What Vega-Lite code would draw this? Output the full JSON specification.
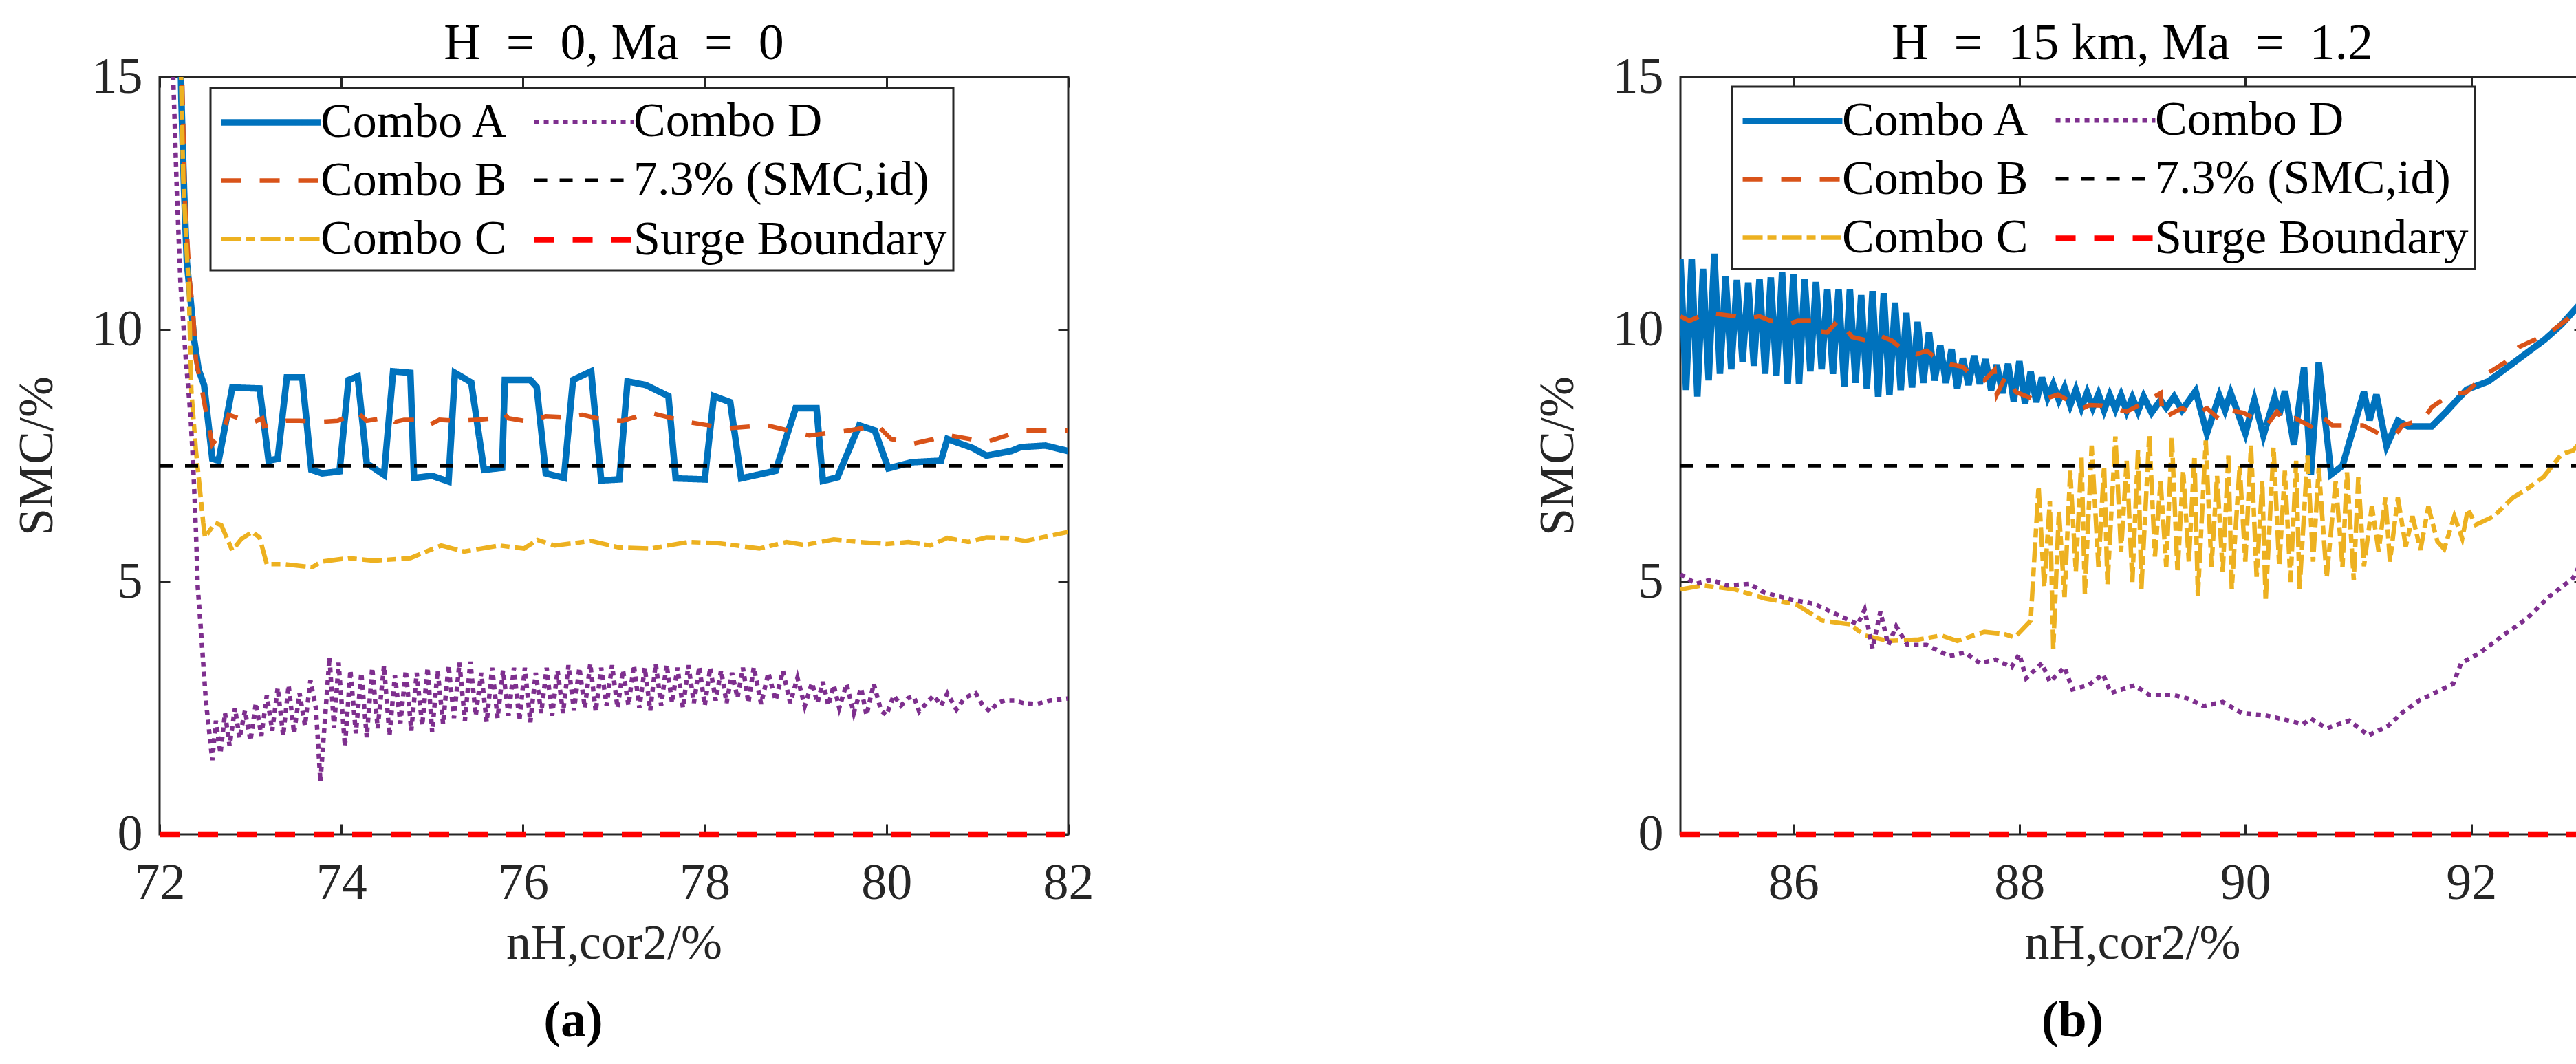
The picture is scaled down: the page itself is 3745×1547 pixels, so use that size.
{
  "$schema": "https://vega.github.io/schema/vega-lite/v6.json",
  "background": "white",
  "padding": {"left": 15, "top": 25, "right": 0, "bottom": 0},
  "datasets": {
    "a": [
      {"s":"Combo A","x":72.23,"y":15.6},{"s":"Combo A","x":72.24,"y":14.55},{"s":"Combo A","x":72.27,"y":12.73},{"s":"Combo A","x":72.30,"y":11.33},{"s":"Combo A","x":72.35,"y":10.42},{"s":"Combo A","x":72.38,"y":9.8},{"s":"Combo A","x":72.43,"y":9.2},{"s":"Combo A","x":72.49,"y":8.9},{"s":"Combo A","x":72.58,"y":7.44},{"s":"Combo A","x":72.65,"y":7.4},{"s":"Combo A","x":72.80,"y":8.85},{"s":"Combo A","x":73.10,"y":8.83},{"s":"Combo A","x":73.20,"y":7.4},{"s":"Combo A","x":73.30,"y":7.44},{"s":"Combo A","x":73.40,"y":9.05},{"s":"Combo A","x":73.57,"y":9.05},{"s":"Combo A","x":73.67,"y":7.22},{"s":"Combo A","x":73.79,"y":7.15},{"s":"Combo A","x":73.98,"y":7.19},{"s":"Combo A","x":74.08,"y":9.0},{"s":"Combo A","x":74.18,"y":9.07},{"s":"Combo A","x":74.28,"y":7.35},{"s":"Combo A","x":74.47,"y":7.12},{"s":"Combo A","x":74.57,"y":9.17},{"s":"Combo A","x":74.76,"y":9.14},{"s":"Combo A","x":74.80,"y":7.06},{"s":"Combo A","x":75.00,"y":7.1},{"s":"Combo A","x":75.18,"y":6.99},{"s":"Combo A","x":75.25,"y":9.14},{"s":"Combo A","x":75.43,"y":8.95},{"s":"Combo A","x":75.57,"y":7.22},{"s":"Combo A","x":75.77,"y":7.26},{"s":"Combo A","x":75.80,"y":9.0},{"s":"Combo A","x":76.08,"y":9.0},{"s":"Combo A","x":76.15,"y":8.86},{"s":"Combo A","x":76.25,"y":7.15},{"s":"Combo A","x":76.45,"y":7.06},{"s":"Combo A","x":76.55,"y":9.0},{"s":"Combo A","x":76.75,"y":9.17},{"s":"Combo A","x":76.86,"y":7.01},{"s":"Combo A","x":77.06,"y":7.03},{"s":"Combo A","x":77.15,"y":8.97},{"s":"Combo A","x":77.35,"y":8.9},{"s":"Combo A","x":77.60,"y":8.68},{"s":"Combo A","x":77.68,"y":7.05},{"s":"Combo A","x":78.00,"y":7.03},{"s":"Combo A","x":78.10,"y":8.68},{"s":"Combo A","x":78.28,"y":8.56},{"s":"Combo A","x":78.40,"y":7.05},{"s":"Combo A","x":78.78,"y":7.2},{"s":"Combo A","x":79.00,"y":8.44},{"s":"Combo A","x":79.23,"y":8.44},{"s":"Combo A","x":79.30,"y":7.0},{"s":"Combo A","x":79.46,"y":7.07},{"s":"Combo A","x":79.70,"y":8.1},{"s":"Combo A","x":79.87,"y":8.0},{"s":"Combo A","x":80.02,"y":7.25},{"s":"Combo A","x":80.28,"y":7.37},{"s":"Combo A","x":80.60,"y":7.4},{"s":"Combo A","x":80.67,"y":7.83},{"s":"Combo A","x":80.95,"y":7.65},{"s":"Combo A","x":81.10,"y":7.5},{"s":"Combo A","x":81.37,"y":7.59},{"s":"Combo A","x":81.48,"y":7.67},{"s":"Combo A","x":81.75,"y":7.7},{"s":"Combo A","x":82.00,"y":7.59},
      {"s":"Combo B","x":72.24,"y":15.6},{"s":"Combo B","x":72.28,"y":12.5},{"s":"Combo B","x":72.33,"y":11.0},{"s":"Combo B","x":72.37,"y":10.3},{"s":"Combo B","x":72.40,"y":9.4},{"s":"Combo B","x":72.47,"y":8.77},{"s":"Combo B","x":72.50,"y":8.47},{"s":"Combo B","x":72.58,"y":7.72},{"s":"Combo B","x":72.70,"y":8.0},{"s":"Combo B","x":72.76,"y":8.31},{"s":"Combo B","x":73.02,"y":8.15},{"s":"Combo B","x":73.13,"y":8.24},{"s":"Combo B","x":73.15,"y":8.08},{"s":"Combo B","x":73.39,"y":8.19},{"s":"Combo B","x":73.54,"y":8.19},{"s":"Combo B","x":73.78,"y":8.17},{"s":"Combo B","x":73.96,"y":8.19},{"s":"Combo B","x":74.18,"y":8.36},{"s":"Combo B","x":74.28,"y":8.19},{"s":"Combo B","x":74.52,"y":8.26},{"s":"Combo B","x":74.59,"y":8.17},{"s":"Combo B","x":74.69,"y":8.21},{"s":"Combo B","x":74.91,"y":8.21},{"s":"Combo B","x":74.98,"y":8.12},{"s":"Combo B","x":75.08,"y":8.21},{"s":"Combo B","x":75.30,"y":8.19},{"s":"Combo B","x":75.48,"y":8.21},{"s":"Combo B","x":75.72,"y":8.24},{"s":"Combo B","x":75.79,"y":8.33},{"s":"Combo B","x":75.84,"y":8.24},{"s":"Combo B","x":76.08,"y":8.17},{"s":"Combo B","x":76.25,"y":8.28},{"s":"Combo B","x":76.48,"y":8.26},{"s":"Combo B","x":76.65,"y":8.31},{"s":"Combo B","x":76.89,"y":8.21},{"s":"Combo B","x":77.09,"y":8.19},{"s":"Combo B","x":77.40,"y":8.35},{"s":"Combo B","x":77.80,"y":8.17},{"s":"Combo B","x":78.25,"y":8.04},{"s":"Combo B","x":78.68,"y":8.1},{"s":"Combo B","x":79.15,"y":7.9},{"s":"Combo B","x":79.60,"y":8.0},{"s":"Combo B","x":79.90,"y":8.1},{"s":"Combo B","x":80.05,"y":7.83},{"s":"Combo B","x":80.30,"y":7.74},{"s":"Combo B","x":80.70,"y":7.9},{"s":"Combo B","x":81.10,"y":7.77},{"s":"Combo B","x":81.50,"y":8.0},{"s":"Combo B","x":82.00,"y":8.0},
      {"s":"Combo C","x":72.23,"y":15.6},{"s":"Combo C","x":72.26,"y":13.0},{"s":"Combo C","x":72.30,"y":11.5},{"s":"Combo C","x":72.32,"y":10.9},{"s":"Combo C","x":72.35,"y":8.77},{"s":"Combo C","x":72.40,"y":7.6},{"s":"Combo C","x":72.44,"y":6.9},{"s":"Combo C","x":72.48,"y":6.17},{"s":"Combo C","x":72.50,"y":5.88},{"s":"Combo C","x":72.61,"y":6.17},{"s":"Combo C","x":72.68,"y":6.12},{"s":"Combo C","x":72.80,"y":5.62},{"s":"Combo C","x":72.90,"y":5.85},{"s":"Combo C","x":73.02,"y":5.99},{"s":"Combo C","x":73.10,"y":5.88},{"s":"Combo C","x":73.18,"y":5.35},{"s":"Combo C","x":73.37,"y":5.35},{"s":"Combo C","x":73.68,"y":5.29},{"s":"Combo C","x":73.78,"y":5.4},{"s":"Combo C","x":74.08,"y":5.47},{"s":"Combo C","x":74.36,"y":5.42},{"s":"Combo C","x":74.76,"y":5.47},{"s":"Combo C","x":75.03,"y":5.67},{"s":"Combo C","x":75.10,"y":5.72},{"s":"Combo C","x":75.35,"y":5.6},{"s":"Combo C","x":75.74,"y":5.72},{"s":"Combo C","x":76.01,"y":5.66},{"s":"Combo C","x":76.16,"y":5.83},{"s":"Combo C","x":76.35,"y":5.72},{"s":"Combo C","x":76.75,"y":5.81},{"s":"Combo C","x":77.06,"y":5.68},{"s":"Combo C","x":77.40,"y":5.66},{"s":"Combo C","x":77.82,"y":5.79},{"s":"Combo C","x":78.13,"y":5.77},{"s":"Combo C","x":78.60,"y":5.66},{"s":"Combo C","x":78.90,"y":5.79},{"s":"Combo C","x":79.10,"y":5.73},{"s":"Combo C","x":79.42,"y":5.84},{"s":"Combo C","x":79.70,"y":5.79},{"s":"Combo C","x":80.00,"y":5.75},{"s":"Combo C","x":80.24,"y":5.79},{"s":"Combo C","x":80.48,"y":5.72},{"s":"Combo C","x":80.67,"y":5.87},{"s":"Combo C","x":80.90,"y":5.79},{"s":"Combo C","x":81.10,"y":5.88},{"s":"Combo C","x":81.33,"y":5.87},{"s":"Combo C","x":81.53,"y":5.81},{"s":"Combo C","x":82.00,"y":5.99},
      {"s":"Combo D","x":72.13,"y":15.6},{"s":"Combo D","x":72.15,"y":15.0},{"s":"Combo D","x":72.19,"y":12.73},{"s":"Combo D","x":72.23,"y":10.9},{"s":"Combo D","x":72.29,"y":9.38},{"s":"Combo D","x":72.34,"y":8.3},{"s":"Combo D","x":72.37,"y":7.3},{"s":"Combo D","x":72.40,"y":6.0},{"s":"Combo D","x":72.42,"y":4.9},{"s":"Combo D","x":72.45,"y":4.17},{"s":"Combo D","x":72.51,"y":2.63},{"s":"Combo D","x":72.58,"y":1.47},
      {"s":"Combo D","x":72.62,"y":2.25},{"s":"Combo D","x":72.67,"y":1.6},{"s":"Combo D","x":72.72,"y":2.4},{"s":"Combo D","x":72.77,"y":1.75},{"s":"Combo D","x":72.83,"y":2.5},{"s":"Combo D","x":72.88,"y":1.9},{"s":"Combo D","x":72.94,"y":2.45},{"s":"Combo D","x":73.00,"y":1.85},{"s":"Combo D","x":73.06,"y":2.6},{"s":"Combo D","x":73.12,"y":1.95},{"s":"Combo D","x":73.18,"y":2.75},{"s":"Combo D","x":73.24,"y":2.05},{"s":"Combo D","x":73.30,"y":2.9},{"s":"Combo D","x":73.36,"y":1.95},{"s":"Combo D","x":73.42,"y":2.95},{"s":"Combo D","x":73.48,"y":2.0},{"s":"Combo D","x":73.54,"y":2.8},{"s":"Combo D","x":73.60,"y":2.15},{"s":"Combo D","x":73.66,"y":3.05},{"s":"Combo D","x":73.72,"y":2.5},{"s":"Combo D","x":73.77,"y":1.04},{"s":"Combo D","x":73.87,"y":3.51},{"s":"Combo D","x":73.92,"y":2.1},{"s":"Combo D","x":73.97,"y":3.4},{"s":"Combo D","x":74.04,"y":1.74},{"s":"Combo D","x":74.10,"y":3.25},{"s":"Combo D","x":74.16,"y":2.0},{"s":"Combo D","x":74.22,"y":3.2},{"s":"Combo D","x":74.28,"y":1.92},{"s":"Combo D","x":74.34,"y":3.3},{"s":"Combo D","x":74.40,"y":2.1},{"s":"Combo D","x":74.47,"y":3.34},{"s":"Combo D","x":74.53,"y":1.95},{"s":"Combo D","x":74.59,"y":3.15},{"s":"Combo D","x":74.65,"y":2.2},{"s":"Combo D","x":74.71,"y":3.25},{"s":"Combo D","x":74.77,"y":2.05},{"s":"Combo D","x":74.83,"y":3.2},{"s":"Combo D","x":74.89,"y":2.15},{"s":"Combo D","x":74.95,"y":3.3},{"s":"Combo D","x":75.00,"y":2.02},{"s":"Combo D","x":75.06,"y":3.25},{"s":"Combo D","x":75.12,"y":2.18},{"s":"Combo D","x":75.18,"y":3.35},{"s":"Combo D","x":75.24,"y":2.3},{"s":"Combo D","x":75.30,"y":3.4},{"s":"Combo D","x":75.36,"y":2.25},{"s":"Combo D","x":75.42,"y":3.42},{"s":"Combo D","x":75.48,"y":2.35},{"s":"Combo D","x":75.54,"y":3.2},{"s":"Combo D","x":75.60,"y":2.22},{"s":"Combo D","x":75.66,"y":3.3},{"s":"Combo D","x":75.72,"y":2.3},{"s":"Combo D","x":75.78,"y":3.25},{"s":"Combo D","x":75.84,"y":2.35},{"s":"Combo D","x":75.90,"y":3.3},{"s":"Combo D","x":75.96,"y":2.25},{"s":"Combo D","x":76.02,"y":3.3},{"s":"Combo D","x":76.08,"y":2.22},{"s":"Combo D","x":76.14,"y":3.2},{"s":"Combo D","x":76.20,"y":2.4},{"s":"Combo D","x":76.26,"y":3.3},{"s":"Combo D","x":76.32,"y":2.35},{"s":"Combo D","x":76.38,"y":3.25},{"s":"Combo D","x":76.44,"y":2.4},{"s":"Combo D","x":76.50,"y":3.35},{"s":"Combo D","x":76.56,"y":2.45},{"s":"Combo D","x":76.62,"y":3.3},{"s":"Combo D","x":76.68,"y":2.5},{"s":"Combo D","x":76.74,"y":3.38},{"s":"Combo D","x":76.80,"y":2.43},{"s":"Combo D","x":76.86,"y":3.3},{"s":"Combo D","x":76.92,"y":2.55},{"s":"Combo D","x":76.98,"y":3.35},{"s":"Combo D","x":77.04,"y":2.5},{"s":"Combo D","x":77.10,"y":3.25},{"s":"Combo D","x":77.16,"y":2.55},{"s":"Combo D","x":77.22,"y":3.35},{"s":"Combo D","x":77.28,"y":2.5},{"s":"Combo D","x":77.34,"y":3.3},{"s":"Combo D","x":77.40,"y":2.45},{"s":"Combo D","x":77.46,"y":3.38},{"s":"Combo D","x":77.52,"y":2.55},{"s":"Combo D","x":77.58,"y":3.36},{"s":"Combo D","x":77.64,"y":2.6},{"s":"Combo D","x":77.70,"y":3.3},{"s":"Combo D","x":77.76,"y":2.5},{"s":"Combo D","x":77.82,"y":3.35},{"s":"Combo D","x":77.88,"y":2.6},{"s":"Combo D","x":77.94,"y":3.32},{"s":"Combo D","x":78.00,"y":2.55},{"s":"Combo D","x":78.06,"y":3.3},{"s":"Combo D","x":78.12,"y":2.65},{"s":"Combo D","x":78.18,"y":3.25},{"s":"Combo D","x":78.24,"y":2.6},{"s":"Combo D","x":78.30,"y":3.2},{"s":"Combo D","x":78.36,"y":2.7},{"s":"Combo D","x":78.42,"y":3.3},{"s":"Combo D","x":78.48,"y":2.6},{"s":"Combo D","x":78.54,"y":3.31},{"s":"Combo D","x":78.62,"y":2.58},{"s":"Combo D","x":78.70,"y":3.2},{"s":"Combo D","x":78.78,"y":2.65},{"s":"Combo D","x":78.86,"y":3.24},{"s":"Combo D","x":78.94,"y":2.6},{"s":"Combo D","x":79.02,"y":3.1},{"s":"Combo D","x":79.10,"y":2.54},{"s":"Combo D","x":79.18,"y":3.0},{"s":"Combo D","x":79.24,"y":2.6},{"s":"Combo D","x":79.30,"y":3.02},{"s":"Combo D","x":79.36,"y":2.55},{"s":"Combo D","x":79.42,"y":2.95},{"s":"Combo D","x":79.48,"y":2.5},{"s":"Combo D","x":79.56,"y":2.98},{"s":"Combo D","x":79.64,"y":2.4},{"s":"Combo D","x":79.72,"y":2.9},{"s":"Combo D","x":79.78,"y":2.36},{"s":"Combo D","x":79.86,"y":2.98},{"s":"Combo D","x":79.94,"y":2.45},{"s":"Combo D","x":80.00,"y":2.36},{"s":"Combo D","x":80.08,"y":2.75},{"s":"Combo D","x":80.16,"y":2.55},{"s":"Combo D","x":80.24,"y":2.7},{"s":"Combo D","x":80.30,"y":2.73},{"s":"Combo D","x":80.36,"y":2.43},{"s":"Combo D","x":80.44,"y":2.6},{"s":"Combo D","x":80.52,"y":2.75},{"s":"Combo D","x":80.60,"y":2.55},{"s":"Combo D","x":80.67,"y":2.79},{"s":"Combo D","x":80.77,"y":2.47},{"s":"Combo D","x":80.86,"y":2.7},{"s":"Combo D","x":80.98,"y":2.8},{"s":"Combo D","x":81.06,"y":2.55},{"s":"Combo D","x":81.14,"y":2.43},{"s":"Combo D","x":81.22,"y":2.6},{"s":"Combo D","x":81.30,"y":2.65},{"s":"Combo D","x":81.41,"y":2.65},{"s":"Combo D","x":81.50,"y":2.6},{"s":"Combo D","x":81.65,"y":2.58},{"s":"Combo D","x":81.80,"y":2.65},{"s":"Combo D","x":82.00,"y":2.69},
      {"s":"7.3% (SMC,id)","x":72,"y":7.3},{"s":"7.3% (SMC,id)","x":82,"y":7.3},
      {"s":"Surge Boundary","x":72,"y":0},{"s":"Surge Boundary","x":82,"y":0}
    ],
    "b": [
      {"s":"Combo A","x":85.00,"y":11.4},{"s":"Combo A","x":85.05,"y":8.8},{"s":"Combo A","x":85.10,"y":11.4},{"s":"Combo A","x":85.15,"y":8.67},{"s":"Combo A","x":85.20,"y":11.2},{"s":"Combo A","x":85.25,"y":8.99},{"s":"Combo A","x":85.30,"y":11.5},{"s":"Combo A","x":85.35,"y":9.12},{"s":"Combo A","x":85.40,"y":11.05},{"s":"Combo A","x":85.45,"y":9.21},{"s":"Combo A","x":85.50,"y":10.98},{"s":"Combo A","x":85.55,"y":9.35},{"s":"Combo A","x":85.60,"y":10.93},{"s":"Combo A","x":85.65,"y":9.28},{"s":"Combo A","x":85.70,"y":11.0},{"s":"Combo A","x":85.75,"y":9.12},{"s":"Combo A","x":85.80,"y":11.03},{"s":"Combo A","x":85.85,"y":9.08},{"s":"Combo A","x":85.90,"y":11.14},{"s":"Combo A","x":85.95,"y":8.92},{"s":"Combo A","x":86.00,"y":11.1},{"s":"Combo A","x":86.05,"y":8.92},{"s":"Combo A","x":86.10,"y":11.0},{"s":"Combo A","x":86.15,"y":9.17},{"s":"Combo A","x":86.20,"y":10.94},{"s":"Combo A","x":86.25,"y":9.21},{"s":"Combo A","x":86.30,"y":10.8},{"s":"Combo A","x":86.35,"y":9.12},{"s":"Combo A","x":86.40,"y":10.8},{"s":"Combo A","x":86.45,"y":8.87},{"s":"Combo A","x":86.50,"y":10.8},{"s":"Combo A","x":86.55,"y":8.94},{"s":"Combo A","x":86.60,"y":10.68},{"s":"Combo A","x":86.65,"y":8.83},{"s":"Combo A","x":86.70,"y":10.76},{"s":"Combo A","x":86.75,"y":8.67},{"s":"Combo A","x":86.80,"y":10.72},{"s":"Combo A","x":86.85,"y":8.71},{"s":"Combo A","x":86.90,"y":10.53},{"s":"Combo A","x":86.95,"y":8.8},{"s":"Combo A","x":87.00,"y":10.33},{"s":"Combo A","x":87.05,"y":8.85},{"s":"Combo A","x":87.10,"y":10.15},{"s":"Combo A","x":87.15,"y":8.94},{"s":"Combo A","x":87.20,"y":9.95},{"s":"Combo A","x":87.25,"y":8.99},{"s":"Combo A","x":87.30,"y":9.68},{"s":"Combo A","x":87.35,"y":8.94},{"s":"Combo A","x":87.40,"y":9.61},{"s":"Combo A","x":87.45,"y":8.83},{"s":"Combo A","x":87.50,"y":9.43},{"s":"Combo A","x":87.55,"y":8.9},{"s":"Combo A","x":87.60,"y":9.48},{"s":"Combo A","x":87.65,"y":8.92},{"s":"Combo A","x":87.70,"y":9.41},{"s":"Combo A","x":87.75,"y":8.8},{"s":"Combo A","x":87.80,"y":9.3},{"s":"Combo A","x":87.85,"y":8.74},{"s":"Combo A","x":87.90,"y":9.32},{"s":"Combo A","x":87.95,"y":8.58},{"s":"Combo A","x":88.00,"y":9.37},{"s":"Combo A","x":88.05,"y":8.53},{"s":"Combo A","x":88.10,"y":9.16},{"s":"Combo A","x":88.15,"y":8.56},{"s":"Combo A","x":88.20,"y":9.05},{"s":"Combo A","x":88.25,"y":8.65},{"s":"Combo A","x":88.30,"y":8.91},{"s":"Combo A","x":88.35,"y":8.6},{"s":"Combo A","x":88.40,"y":8.85},{"s":"Combo A","x":88.45,"y":8.5},{"s":"Combo A","x":88.50,"y":8.8},{"s":"Combo A","x":88.55,"y":8.45},{"s":"Combo A","x":88.60,"y":8.75},{"s":"Combo A","x":88.65,"y":8.45},{"s":"Combo A","x":88.70,"y":8.72},{"s":"Combo A","x":88.75,"y":8.4},{"s":"Combo A","x":88.80,"y":8.7},{"s":"Combo A","x":88.85,"y":8.42},{"s":"Combo A","x":88.90,"y":8.7},{"s":"Combo A","x":88.95,"y":8.38},{"s":"Combo A","x":89.00,"y":8.65},{"s":"Combo A","x":89.05,"y":8.38},{"s":"Combo A","x":89.10,"y":8.67},{"s":"Combo A","x":89.17,"y":8.35},{"s":"Combo A","x":89.25,"y":8.6},{"s":"Combo A","x":89.30,"y":8.45},{"s":"Combo A","x":89.37,"y":8.67},{"s":"Combo A","x":89.44,"y":8.4},{"s":"Combo A","x":89.56,"y":8.78},{"s":"Combo A","x":89.66,"y":7.94},{"s":"Combo A","x":89.77,"y":8.69},{"s":"Combo A","x":89.82,"y":8.4},{"s":"Combo A","x":89.87,"y":8.74},{"s":"Combo A","x":90.00,"y":7.94},{"s":"Combo A","x":90.08,"y":8.6},{"s":"Combo A","x":90.16,"y":7.9},{"s":"Combo A","x":90.26,"y":8.65},{"s":"Combo A","x":90.30,"y":8.3},{"s":"Combo A","x":90.35,"y":8.78},{"s":"Combo A","x":90.43,"y":7.72},{"s":"Combo A","x":90.52,"y":9.25},{"s":"Combo A","x":90.58,"y":7.13},{"s":"Combo A","x":90.65,"y":9.35},{"s":"Combo A","x":90.76,"y":7.13},{"s":"Combo A","x":90.86,"y":7.3},{"s":"Combo A","x":91.05,"y":8.76},{"s":"Combo A","x":91.10,"y":8.2},{"s":"Combo A","x":91.16,"y":8.71},{"s":"Combo A","x":91.25,"y":7.69},{"s":"Combo A","x":91.35,"y":8.19},{"s":"Combo A","x":91.44,"y":8.08},{"s":"Combo A","x":91.65,"y":8.08},{"s":"Combo A","x":91.77,"y":8.35},{"s":"Combo A","x":91.96,"y":8.81},{"s":"Combo A","x":92.15,"y":8.97},{"s":"Combo A","x":92.35,"y":9.3},{"s":"Combo A","x":92.50,"y":9.55},{"s":"Combo A","x":92.65,"y":9.8},{"s":"Combo A","x":92.80,"y":10.1},{"s":"Combo A","x":92.90,"y":10.35},{"s":"Combo A","x":93.00,"y":10.6},
      {"s":"Combo B","x":85.00,"y":10.26},{"s":"Combo B","x":85.08,"y":10.17},{"s":"Combo B","x":85.24,"y":10.33},{"s":"Combo B","x":85.35,"y":10.3},{"s":"Combo B","x":85.49,"y":10.26},{"s":"Combo B","x":85.58,"y":10.21},{"s":"Combo B","x":85.70,"y":10.26},{"s":"Combo B","x":85.80,"y":10.17},{"s":"Combo B","x":85.97,"y":10.12},{"s":"Combo B","x":86.04,"y":10.17},{"s":"Combo B","x":86.18,"y":10.17},{"s":"Combo B","x":86.20,"y":9.96},{"s":"Combo B","x":86.30,"y":9.94},{"s":"Combo B","x":86.40,"y":10.19},{"s":"Combo B","x":86.52,"y":9.85},{"s":"Combo B","x":86.65,"y":9.78},{"s":"Combo B","x":86.75,"y":9.89},{"s":"Combo B","x":86.87,"y":9.78},{"s":"Combo B","x":86.97,"y":9.6},{"s":"Combo B","x":87.09,"y":9.51},{"s":"Combo B","x":87.18,"y":9.58},{"s":"Combo B","x":87.28,"y":9.4},{"s":"Combo B","x":87.39,"y":9.31},{"s":"Combo B","x":87.50,"y":9.26},{"s":"Combo B","x":87.59,"y":9.06},{"s":"Combo B","x":87.69,"y":8.99},{"s":"Combo B","x":87.78,"y":9.2},{"s":"Combo B","x":87.80,"y":8.71},{"s":"Combo B","x":87.88,"y":9.08},{"s":"Combo B","x":87.97,"y":8.76},{"s":"Combo B","x":88.17,"y":8.58},{"s":"Combo B","x":88.34,"y":8.71},{"s":"Combo B","x":88.56,"y":8.44},{"s":"Combo B","x":88.62,"y":8.5},{"s":"Combo B","x":88.73,"y":8.49},{"s":"Combo B","x":88.95,"y":8.37},{"s":"Combo B","x":89.11,"y":8.56},{"s":"Combo B","x":89.25,"y":8.74},{"s":"Combo B","x":89.27,"y":8.24},{"s":"Combo B","x":89.44,"y":8.44},{"s":"Combo B","x":89.56,"y":8.31},{"s":"Combo B","x":89.66,"y":8.44},{"s":"Combo B","x":89.77,"y":8.22},{"s":"Combo B","x":89.85,"y":8.4},{"s":"Combo B","x":89.98,"y":8.35},{"s":"Combo B","x":90.08,"y":8.24},{"s":"Combo B","x":90.20,"y":8.13},{"s":"Combo B","x":90.28,"y":8.37},{"s":"Combo B","x":90.36,"y":8.15},{"s":"Combo B","x":90.44,"y":8.24},{"s":"Combo B","x":90.58,"y":8.08},{"s":"Combo B","x":90.66,"y":8.31},{"s":"Combo B","x":90.77,"y":8.1},{"s":"Combo B","x":90.93,"y":8.1},{"s":"Combo B","x":91.04,"y":8.1},{"s":"Combo B","x":91.18,"y":7.94},{"s":"Combo B","x":91.34,"y":7.94},{"s":"Combo B","x":91.39,"y":8.1},{"s":"Combo B","x":91.58,"y":8.22},{"s":"Combo B","x":91.65,"y":8.46},{"s":"Combo B","x":91.80,"y":8.69},{"s":"Combo B","x":91.96,"y":8.76},{"s":"Combo B","x":92.11,"y":9.08},{"s":"Combo B","x":92.30,"y":9.35},{"s":"Combo B","x":92.42,"y":9.65},{"s":"Combo B","x":92.69,"y":9.93},{"s":"Combo B","x":92.85,"y":10.2},{"s":"Combo B","x":93.00,"y":10.53},
      {"s":"Combo C","x":85.00,"y":4.85},{"s":"Combo C","x":85.20,"y":4.93},{"s":"Combo C","x":85.48,"y":4.85},{"s":"Combo C","x":85.75,"y":4.67},{"s":"Combo C","x":86.02,"y":4.56},{"s":"Combo C","x":86.26,"y":4.23},{"s":"Combo C","x":86.50,"y":4.16},{"s":"Combo C","x":86.63,"y":3.94},{"s":"Combo C","x":86.84,"y":3.83},{"s":"Combo C","x":87.11,"y":3.86},{"s":"Combo C","x":87.31,"y":3.94},{"s":"Combo C","x":87.45,"y":3.83},{"s":"Combo C","x":87.69,"y":4.01},{"s":"Combo C","x":87.86,"y":3.97},{"s":"Combo C","x":87.96,"y":3.9},{"s":"Combo C","x":88.10,"y":4.23},
      {"s":"Combo C","x":88.17,"y":6.9},{"s":"Combo C","x":88.22,"y":4.9},{"s":"Combo C","x":88.27,"y":6.6},{"s":"Combo C","x":88.30,"y":3.68},{"s":"Combo C","x":88.35,"y":6.4},{"s":"Combo C","x":88.40,"y":4.7},{"s":"Combo C","x":88.45,"y":7.2},{"s":"Combo C","x":88.50,"y":5.2},{"s":"Combo C","x":88.55,"y":7.5},{"s":"Combo C","x":88.58,"y":4.76},{"s":"Combo C","x":88.64,"y":7.7},{"s":"Combo C","x":88.70,"y":5.3},{"s":"Combo C","x":88.75,"y":7.3},{"s":"Combo C","x":88.78,"y":4.94},{"s":"Combo C","x":88.85,"y":7.88},{"s":"Combo C","x":88.90,"y":5.6},{"s":"Combo C","x":88.95,"y":7.4},{"s":"Combo C","x":89.00,"y":5.0},{"s":"Combo C","x":89.05,"y":7.6},{"s":"Combo C","x":89.08,"y":4.86},{"s":"Combo C","x":89.15,"y":7.92},{"s":"Combo C","x":89.20,"y":5.5},{"s":"Combo C","x":89.25,"y":7.0},{"s":"Combo C","x":89.30,"y":5.3},{"s":"Combo C","x":89.35,"y":7.85},{"s":"Combo C","x":89.40,"y":5.18},{"s":"Combo C","x":89.45,"y":7.2},{"s":"Combo C","x":89.50,"y":5.4},{"s":"Combo C","x":89.55,"y":7.5},{"s":"Combo C","x":89.58,"y":4.72},{"s":"Combo C","x":89.65,"y":7.8},{"s":"Combo C","x":89.70,"y":5.3},{"s":"Combo C","x":89.75,"y":7.1},{"s":"Combo C","x":89.80,"y":5.2},{"s":"Combo C","x":89.85,"y":7.5},{"s":"Combo C","x":89.88,"y":4.86},{"s":"Combo C","x":89.95,"y":7.3},{"s":"Combo C","x":90.00,"y":5.4},{"s":"Combo C","x":90.05,"y":7.7},{"s":"Combo C","x":90.10,"y":5.1},{"s":"Combo C","x":90.15,"y":7.0},{"s":"Combo C","x":90.18,"y":4.61},{"s":"Combo C","x":90.25,"y":7.67},{"s":"Combo C","x":90.30,"y":5.3},{"s":"Combo C","x":90.35,"y":7.2},{"s":"Combo C","x":90.40,"y":5.0},{"s":"Combo C","x":90.45,"y":7.4},{"s":"Combo C","x":90.48,"y":4.84},{"s":"Combo C","x":90.55,"y":7.5},{"s":"Combo C","x":90.60,"y":5.4},{"s":"Combo C","x":90.65,"y":7.26},{"s":"Combo C","x":90.72,"y":5.08},{"s":"Combo C","x":90.80,"y":7.0},{"s":"Combo C","x":90.86,"y":5.3},{"s":"Combo C","x":90.90,"y":7.17},{"s":"Combo C","x":90.96,"y":5.04},{"s":"Combo C","x":91.00,"y":7.08},{"s":"Combo C","x":91.05,"y":5.31},{"s":"Combo C","x":91.12,"y":6.5},{"s":"Combo C","x":91.18,"y":5.6},{"s":"Combo C","x":91.24,"y":6.67},{"s":"Combo C","x":91.28,"y":5.4},{"s":"Combo C","x":91.35,"y":6.67},{"s":"Combo C","x":91.42,"y":5.7},{"s":"Combo C","x":91.48,"y":6.3},{"s":"Combo C","x":91.55,"y":5.63},{"s":"Combo C","x":91.62,"y":6.49},{"s":"Combo C","x":91.70,"y":5.8},{"s":"Combo C","x":91.76,"y":5.65},{"s":"Combo C","x":91.85,"y":6.3},{"s":"Combo C","x":91.92,"y":5.86},{"s":"Combo C","x":91.97,"y":6.44},{"s":"Combo C","x":92.04,"y":6.13},{"s":"Combo C","x":92.20,"y":6.3},{"s":"Combo C","x":92.37,"y":6.67},{"s":"Combo C","x":92.50,"y":6.85},{"s":"Combo C","x":92.64,"y":7.08},{"s":"Combo C","x":92.80,"y":7.53},{"s":"Combo C","x":92.90,"y":7.6},{"s":"Combo C","x":93.00,"y":7.85},
      {"s":"Combo D","x":85.00,"y":5.15},{"s":"Combo D","x":85.14,"y":4.96},{"s":"Combo D","x":85.27,"y":5.04},{"s":"Combo D","x":85.41,"y":4.93},{"s":"Combo D","x":85.61,"y":4.96},{"s":"Combo D","x":85.75,"y":4.78},{"s":"Combo D","x":85.88,"y":4.71},{"s":"Combo D","x":86.02,"y":4.63},{"s":"Combo D","x":86.19,"y":4.56},{"s":"Combo D","x":86.36,"y":4.38},{"s":"Combo D","x":86.57,"y":4.16},{"s":"Combo D","x":86.63,"y":4.45},{"s":"Combo D","x":86.70,"y":3.68},{"s":"Combo D","x":86.77,"y":4.41},{"s":"Combo D","x":86.84,"y":3.75},{"s":"Combo D","x":86.91,"y":4.12},{"s":"Combo D","x":87.01,"y":3.75},{"s":"Combo D","x":87.18,"y":3.75},{"s":"Combo D","x":87.38,"y":3.53},{"s":"Combo D","x":87.52,"y":3.6},{"s":"Combo D","x":87.65,"y":3.39},{"s":"Combo D","x":87.79,"y":3.46},{"s":"Combo D","x":87.93,"y":3.31},{"s":"Combo D","x":88.00,"y":3.57},{"s":"Combo D","x":88.06,"y":3.09},{"s":"Combo D","x":88.20,"y":3.39},{"s":"Combo D","x":88.27,"y":3.02},{"s":"Combo D","x":88.40,"y":3.31},{"s":"Combo D","x":88.47,"y":2.87},{"s":"Combo D","x":88.61,"y":2.95},{"s":"Combo D","x":88.74,"y":3.17},{"s":"Combo D","x":88.81,"y":2.8},{"s":"Combo D","x":89.02,"y":2.95},{"s":"Combo D","x":89.15,"y":2.76},{"s":"Combo D","x":89.36,"y":2.76},{"s":"Combo D","x":89.49,"y":2.69},{"s":"Combo D","x":89.63,"y":2.54},{"s":"Combo D","x":89.80,"y":2.62},{"s":"Combo D","x":89.97,"y":2.4},{"s":"Combo D","x":90.17,"y":2.36},{"s":"Combo D","x":90.31,"y":2.29},{"s":"Combo D","x":90.51,"y":2.18},{"s":"Combo D","x":90.58,"y":2.29},{"s":"Combo D","x":90.72,"y":2.1},{"s":"Combo D","x":90.92,"y":2.25},{"s":"Combo D","x":91.09,"y":1.96},{"s":"Combo D","x":91.26,"y":2.14},{"s":"Combo D","x":91.40,"y":2.43},{"s":"Combo D","x":91.54,"y":2.65},{"s":"Combo D","x":91.74,"y":2.87},{"s":"Combo D","x":91.84,"y":2.98},{"s":"Combo D","x":91.91,"y":3.39},{"s":"Combo D","x":92.08,"y":3.6},{"s":"Combo D","x":92.28,"y":3.94},{"s":"Combo D","x":92.49,"y":4.27},{"s":"Combo D","x":92.69,"y":4.71},{"s":"Combo D","x":92.90,"y":5.07},{"s":"Combo D","x":93.00,"y":5.51},
      {"s":"7.3% (SMC,id)","x":85,"y":7.3},{"s":"7.3% (SMC,id)","x":93,"y":7.3},
      {"s":"Surge Boundary","x":85,"y":0},{"s":"Surge Boundary","x":93,"y":0}
    ]
  },
  "spacing": 634,
  "resolve": {
    "scale": {"x": "independent", "y": "independent", "color": "independent", "strokeDash": "independent", "strokeWidth": "independent"},
    "legend": {"color": "independent", "strokeDash": "independent", "strokeWidth": "independent"}
  },
  "hconcat": [
    {
      "title": {"text": "(a)", "orient": "bottom", "fontWeight": "bold", "offset": 40, "dx": 30},
      "resolve": {
        "scale": {"color": "independent", "strokeDash": "independent", "strokeWidth": "independent"},
        "legend": {"color": "independent", "strokeDash": "independent", "strokeWidth": "independent"}
      },
      "hconcat": [
        {
          "title": {"text": "H\u2002=\u20020, Ma\u2002=\u20020"},
          "width": 1321,
          "height": 1101,
          "data": {"name": "a"},
          "encoding": {
            "color": {"field": "s", "type": "nominal",
              "scale": {"domain": ["Combo A", "Combo B", "Combo C", "Combo D", "7.3% (SMC,id)", "Surge Boundary"],
                        "range": ["#0072BD", "#D95319", "#EDB120", "#7E2F8E", "#000000", "#FF0000"]},
              "legend": {"title": null, "orient": "none", "legendX": 74, "legendY": 16, "columns": 2}},
            "strokeDash": {"field": "s", "type": "nominal",
              "scale": {"domain": ["Combo A", "Combo B", "Combo C", "Combo D", "7.3% (SMC,id)", "Surge Boundary"],
                        "range": [[1, 0], [29, 27], [29, 7, 13, 8], [7, 7], [19, 18], [29, 27]]},
              "legend": {"title": null, "orient": "none", "legendX": 74, "legendY": 16, "columns": 2}},
            "strokeWidth": {"field": "s", "type": "nominal",
              "scale": {"type": "ordinal", "domain": ["Combo A", "Combo B", "Combo C", "Combo D", "7.3% (SMC,id)", "Surge Boundary"],
                        "range": [9.5, 6.5, 6.5, 6.5, 5, 8.5]},
              "legend": {"title": null, "orient": "none", "legendX": 74, "legendY": 16, "columns": 2}}
          },
          "layer": [
            {
              "transform": [{"filter": {"field": "s", "oneOf": ["Combo A", "Combo B", "Combo C", "Combo D"]}}],
              "mark": {"type": "line", "clip": true},
              "encoding": {
                "x": {"field": "x", "type": "quantitative", "scale": {"domain": [72, 82], "nice": false, "zero": false},
                      "axis": {"orient": "bottom", "values": [72, 74, 76, 78, 80, 82], "title": "nH,cor2/%"}},
                "y": {"field": "y", "type": "quantitative", "scale": {"domain": [0, 15], "nice": false},
                      "axis": {"orient": "left", "values": [0, 5, 10, 15], "title": "SMC/%"}}
              }
            },
            {
              "transform": [{"filter": {"field": "s", "oneOf": ["7.3% (SMC,id)", "Surge Boundary"]}}],
              "mark": {"type": "line", "clip": false},
              "encoding": {
                "x": {"field": "x", "type": "quantitative", "scale": {"domain": [72, 82], "nice": false, "zero": false},
                      "axis": {"orient": "top", "values": [72, 74, 76, 78, 80, 82], "labels": false, "title": null}},
                "y": {"field": "y", "type": "quantitative", "scale": {"domain": [0, 15], "nice": false},
                      "axis": {"orient": "right", "values": [0, 5, 10, 15], "labels": false, "title": null}}
              }
            }
          ],
          "resolve": {"axis": {"x": "independent", "y": "independent"}}
        }
      ]
    },
    {
      "title": {"text": "(b)", "orient": "bottom", "fontWeight": "bold", "offset": 40, "dx": 12},
      "resolve": {
        "scale": {"color": "independent", "strokeDash": "independent", "strokeWidth": "independent"},
        "legend": {"color": "independent", "strokeDash": "independent", "strokeWidth": "independent"}
      },
      "hconcat": [
        {
          "title": {"text": "H\u2002=\u200215 km, Ma\u2002=\u20021.2"},
          "width": 1314,
          "height": 1101,
          "data": {"name": "b"},
          "encoding": {
            "color": {"field": "s", "type": "nominal",
              "scale": {"domain": ["Combo A", "Combo B", "Combo C", "Combo D", "7.3% (SMC,id)", "Surge Boundary"],
                        "range": ["#0072BD", "#D95319", "#EDB120", "#7E2F8E", "#000000", "#FF0000"]},
              "legend": {"title": null, "orient": "none", "legendX": 75, "legendY": 14, "columns": 2}},
            "strokeDash": {"field": "s", "type": "nominal",
              "scale": {"domain": ["Combo A", "Combo B", "Combo C", "Combo D", "7.3% (SMC,id)", "Surge Boundary"],
                        "range": [[1, 0], [29, 27], [29, 7, 13, 8], [7, 7], [19, 18], [29, 27]]},
              "legend": {"title": null, "orient": "none", "legendX": 75, "legendY": 14, "columns": 2}},
            "strokeWidth": {"field": "s", "type": "nominal",
              "scale": {"type": "ordinal", "domain": ["Combo A", "Combo B", "Combo C", "Combo D", "7.3% (SMC,id)", "Surge Boundary"],
                        "range": [9.5, 6.5, 6.5, 6.5, 5, 8.5]},
              "legend": {"title": null, "orient": "none", "legendX": 75, "legendY": 14, "columns": 2}}
          },
          "layer": [
            {
              "transform": [{"filter": {"field": "s", "oneOf": ["Combo A", "Combo B", "Combo C", "Combo D"]}}],
              "mark": {"type": "line", "clip": true},
              "encoding": {
                "x": {"field": "x", "type": "quantitative", "scale": {"domain": [85, 93], "nice": false, "zero": false},
                      "axis": {"orient": "bottom", "values": [86, 88, 90, 92], "title": "nH,cor2/%"}},
                "y": {"field": "y", "type": "quantitative", "scale": {"domain": [0, 15], "nice": false},
                      "axis": {"orient": "left", "values": [0, 5, 10, 15], "title": "SMC/%"}}
              }
            },
            {
              "transform": [{"filter": {"field": "s", "oneOf": ["7.3% (SMC,id)", "Surge Boundary"]}}],
              "mark": {"type": "line", "clip": false},
              "encoding": {
                "x": {"field": "x", "type": "quantitative", "scale": {"domain": [85, 93], "nice": false, "zero": false},
                      "axis": {"orient": "top", "values": [86, 88, 90, 92], "labels": false, "title": null}},
                "y": {"field": "y", "type": "quantitative", "scale": {"domain": [0, 15], "nice": false},
                      "axis": {"orient": "right", "values": [0, 5, 10, 15], "labels": false, "title": null}}
              }
            }
          ],
          "resolve": {"axis": {"x": "independent", "y": "independent"}}
        }
      ]
    }
  ],
  "config": {
    "font": "Liberation Serif",
    "view": {"stroke": "#262626", "strokeWidth": 3},
    "title": {"font": "Liberation Serif", "fontSize": 74, "fontWeight": "normal", "color": "#000000", "offset": -27, "anchor": "middle"},
    "axis": {
      "domain": false, "grid": false, "ticks": true,
      "tickColor": "#262626", "tickWidth": 3, "tickSize": -15,
      "labelFont": "Liberation Serif", "labelFontSize": 74, "labelColor": "#262626",
      "labelFlush": false, "labelOverlap": false,
      "titleFont": "Liberation Serif", "titleFontSize": 72, "titleFontWeight": "normal", "titleColor": "#262626"
    },
    "axisX": {"labelPadding": 50, "titlePadding": 15},
    "axisY": {"labelPadding": 40, "titlePadding": 43},
    "legend": {
      "symbolType": "M-2,0H2", "symbolSize": 5250, "symbolOffset": 38,
      "labelFont": "Liberation Serif", "labelFontSize": 70, "labelColor": "#000000",
      "labelOffset": 31, "labelLimit": 0,
      "rowPadding": 10, "columnPadding": 18, "padding": 9,
      "strokeColor": "#262626", "strokeWidth": 3, "fillColor": "#ffffff"
    }
  }
}
